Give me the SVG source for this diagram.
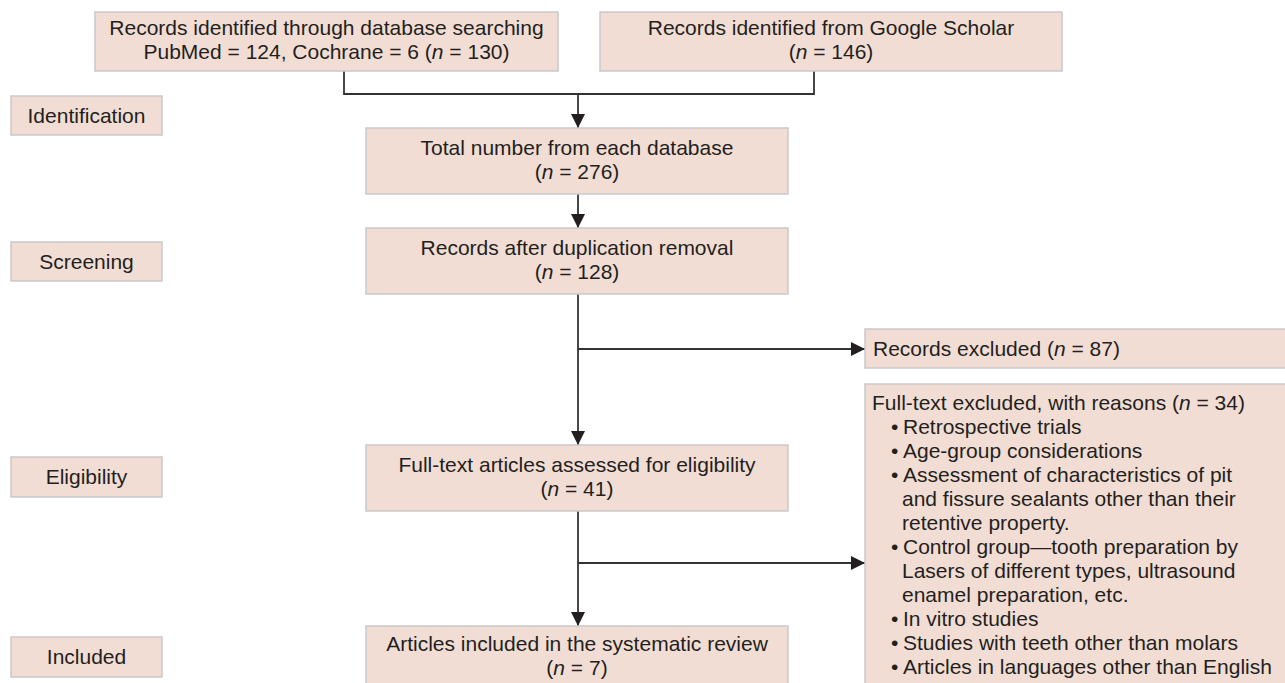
<svg xmlns="http://www.w3.org/2000/svg" width="1285" height="683" viewBox="0 0 1285 683">
<style>
.box{fill:#f2ddd4;stroke:#c9c9c9;stroke-width:1.5}
.t{font-family:"Liberation Sans",Arial,sans-serif;font-size:21px;fill:#231f20}
.c{text-anchor:middle}
.i{font-style:italic}
.ln{fill:none;stroke:#333;stroke-width:1.8}
</style>
<defs>
<marker id="ah" markerUnits="userSpaceOnUse" markerWidth="14" markerHeight="14" refX="14" refY="7" orient="auto">
<path d="M0,0 L14,7 L0,14 z" fill="#231f20"/>
</marker>
</defs>
<rect width="1285" height="683" fill="#fff"/>

<g id="connectors">
<polyline class="ln" points="344,71 344,94 814,94 814,71"/>
<line class="ln" x1="578" y1="94" x2="578" y2="128" marker-end="url(#ah)"/>
<line class="ln" x1="578" y1="194" x2="578" y2="228" marker-end="url(#ah)"/>
<line class="ln" x1="578" y1="294" x2="578" y2="445" marker-end="url(#ah)"/>
<line class="ln" x1="578" y1="349" x2="865" y2="349" marker-end="url(#ah)"/>
<line class="ln" x1="578" y1="511" x2="578" y2="626" marker-end="url(#ah)"/>
<line class="ln" x1="578" y1="563" x2="865" y2="563" marker-end="url(#ah)"/>
</g>

<g id="lbl-identification">
<rect class="box" x="11" y="96" width="151" height="39"/>
<text class="t c" x="86.5" y="123">Identification</text>
</g>
<g id="lbl-screening">
<rect class="box" x="11" y="242" width="151" height="39"/>
<text class="t c" x="86.5" y="269">Screening</text>
</g>
<g id="lbl-eligibility">
<rect class="box" x="11" y="457" width="151" height="40"/>
<text class="t c" x="86.5" y="484">Eligibility</text>
</g>
<g id="lbl-included">
<rect class="box" x="11" y="637" width="151" height="40"/>
<text class="t c" x="86.5" y="664">Included</text>
</g>

<g id="n-db">
<rect class="box" x="95" y="12" width="463" height="59"/>
<text class="t c" x="326.5" y="35">Records identified through database searching</text>
<text class="t c" x="326.5" y="59">PubMed = 124, Cochrane = 6 (<tspan class="i">n</tspan> = 130)</text>
</g>
<g id="n-gs">
<rect class="box" x="600" y="12" width="462" height="59"/>
<text class="t c" x="831" y="35">Records identified from Google Scholar</text>
<text class="t c" x="831" y="59">(<tspan class="i">n</tspan> = 146)</text>
</g>
<g id="n-total">
<rect class="box" x="366" y="128" width="422" height="66"/>
<text class="t c" x="577" y="155">Total number from each database</text>
<text class="t c" x="577" y="179">(<tspan class="i">n</tspan> = 276)</text>
</g>
<g id="n-dedup">
<rect class="box" x="366" y="228" width="422" height="66"/>
<text class="t c" x="577" y="255">Records after duplication removal</text>
<text class="t c" x="577" y="279">(<tspan class="i">n</tspan> = 128)</text>
</g>
<g id="n-fulltext">
<rect class="box" x="366" y="445" width="422" height="66"/>
<text class="t c" x="577" y="472">Full-text articles assessed for eligibility</text>
<text class="t c" x="577" y="496">(<tspan class="i">n</tspan> = 41)</text>
</g>
<g id="n-included">
<rect class="box" x="366" y="626" width="422" height="66"/>
<text class="t c" x="577" y="651">Articles included in the systematic review</text>
<text class="t c" x="577" y="675">(<tspan class="i">n</tspan> = 7)</text>
</g>
<g id="n-excluded">
<rect class="box" x="865" y="329" width="430" height="39"/>
<text class="t" x="873" y="356">Records excluded (<tspan class="i">n</tspan> = 87)</text>
</g>
<g id="n-ft-excluded">
<rect class="box" x="865" y="384" width="430" height="320"/>
<text class="t" x="872" y="410">Full-text excluded, with reasons (<tspan class="i">n</tspan> = 34)</text>
<g class="t">
<text class="t" x="891" y="434">•</text><text class="t" x="903" y="434">Retrospective trials</text>
<text class="t" x="891" y="458">•</text><text class="t" x="903" y="458">Age-group considerations</text>
<text class="t" x="891" y="482">•</text><text class="t" x="903" y="482">Assessment of characteristics of pit</text>
<text class="t" x="902" y="506">and fissure sealants other than their</text>
<text class="t" x="902" y="530">retentive property.</text>
<text class="t" x="891" y="554">•</text><text class="t" x="903" y="554">Control group—tooth preparation by</text>
<text class="t" x="902" y="578">Lasers of different types, ultrasound</text>
<text class="t" x="902" y="602">enamel preparation, etc.</text>
<text class="t" x="891" y="626">•</text><text class="t" x="903" y="626">In vitro studies</text>
<text class="t" x="891" y="650">•</text><text class="t" x="903" y="650">Studies with teeth other than molars</text>
<text class="t" x="891" y="674">•</text><text class="t" x="903" y="674">Articles in languages other than English</text>
</g>
</g>
</svg>
